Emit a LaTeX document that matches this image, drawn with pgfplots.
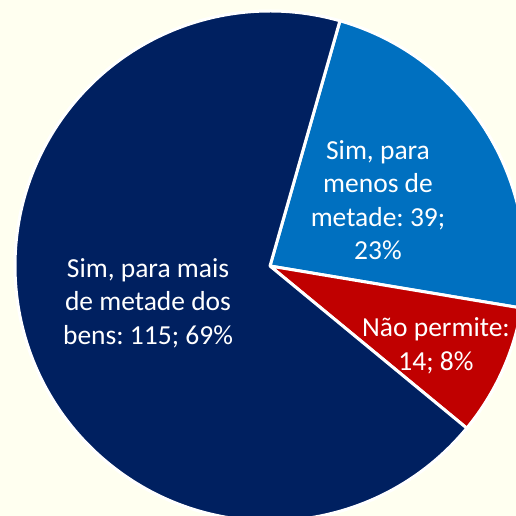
\documentclass[border=0pt]{standalone}
\usepackage{pgfplots}
\pgfplotsset{compat=1.18}
\usepackage{pgfplotstable}
\usepackage{fontspec}
\setmainfont{Carlito}
\frenchspacing

\definecolor{bgcream}{HTML}{FFFFF0}
\definecolor{navy}{HTML}{002060}
\definecolor{midblue}{HTML}{0070C0}
\definecolor{darkred}{HTML}{C00000}

% share of estates that may be disposed of
\pgfplotstableread{
share value
menos 39
nao   14
mais  115
}\piedata

\begin{document}
\begin{tikzpicture}
\pgfplotstablegetelem{0}{value}\of\piedata \let\vA\pgfplotsretval
\pgfplotstablegetelem{1}{value}\of\piedata \let\vB\pgfplotsretval
\pgfplotstablegetelem{2}{value}\of\piedata \let\vC\pgfplotsretval
\pgfmathsetmacro{\tot}{\vA+\vB+\vC}
\pgfmathsetmacro{\aS}{74.07}
\pgfmathsetmacro{\aA}{\aS-\vA/\tot*360}
\pgfmathsetmacro{\aB}{\aA-\vB/\tot*360}
\pgfmathsetmacro{\aC}{\aB-\vC/\tot*360}
\useasboundingbox (0,0) rectangle (516pt,516pt);
\fill[bgcream] (0,0) rectangle (516pt,516pt);
\begin{axis}[
    at={(0,0)}, anchor=south west,
    width=516pt, height=516pt, scale only axis,
    hide axis,
    xmin=0, xmax=516, ymin=0, ymax=516,
    clip=true,
]
\tikzset{slice/.style={draw=white, line width=3pt, line join=round}}
\filldraw[slice, fill=midblue] (axis cs:270,250) -- ++(\aS:255pt)
    arc[start angle=\aS, end angle=\aA, radius=255pt] -- cycle;
\filldraw[slice, fill=darkred] (axis cs:270,250) -- ++(\aA:255pt)
    arc[start angle=\aA, end angle=\aB, radius=255pt] -- cycle;
\filldraw[slice, fill=navy] (axis cs:270,250) -- ++(\aB:255pt)
    arc[start angle=\aB, end angle=\aC, radius=255pt] -- cycle;

\tikzset{lbl/.style={text=white, align=center, inner sep=0pt,
    font=\fontsize{27.5}{33.5}\selectfont}}
\node[lbl] at (axis cs:148,213) {Sim, para mais\\de metade dos\\bens: 115; 69\%};
\node[lbl] at (axis cs:378,316) {Sim, para\\menos de\\metade: 39;\\23\%};
\node[lbl] at (axis cs:436,170) {Não permite:\\14; 8\%};
\end{axis}
\end{tikzpicture}
\end{document}
